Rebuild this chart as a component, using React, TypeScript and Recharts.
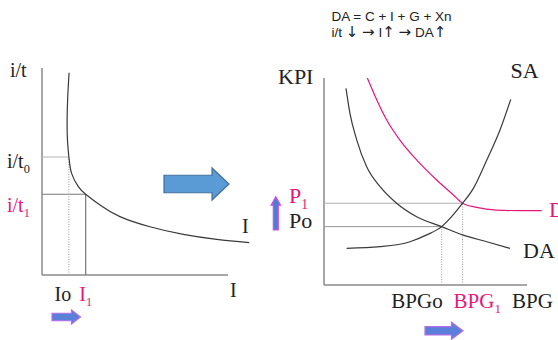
import React from "react";
import { LineChart, Line, XAxis, YAxis, ReferenceLine } from "recharts";

const SERIF = "\"Liberation Serif\", \"DejaVu Serif\", \"Times New Roman\", serif";
const SANS = "\"Liberation Sans\", Arial, sans-serif";
const PINK = "#e5177a";
const INK = "#222";
const CURVE = "#3a3a3a";
const AXIS = "#8a8a8a";

// ---- left panel: investment vs interest rate ----
const I_CURVE_X = [12.9, 12.2, 12.0, 12.8, 14.1, 17.3, 20.8, 27.6, 37.1, 51.4, 67.3, 83.2, 98.7];
const I_CURVE_Y = [97.7, 84.5, 68.4, 57.0, 49.1, 42.7, 39.0, 33.8, 28.2, 23.3, 19.6, 17.2, 15.6];
const RATE_TICKS = [57.0, 39.0]; // i/t0, i/t1
const INVEST_TICKS = [12.8, 20.8]; // Io, I1
const LEFT_X_END = 88.6;

// ---- right panel: aggregate demand / supply ----
const SA_X = [10.3, 25.5, 39.1, 46.7, 53.5, 58, 63, 67.9, 74, 80, 84.9];
const SA_Y = [17.7, 18.5, 20.9, 24.2, 28.2, 33, 39.5, 46.7, 60.4, 74.9, 89.7];
const DA_X = [10, 11.8, 14.9, 19.4, 25.5, 33, 42.1, 53.5, 63, 74, 84.5];
const DA_Y = [95, 82.9, 70, 57.1, 47.5, 39.5, 33, 28.2, 24.2, 20.9, 17.7];
const DA1_X = [19.7, 24, 28.5, 34.5, 42.1, 51.2, 58.8, 63, 69.4, 78.5, 89.1, 99];
const DA1_Y = [100, 89.4, 79.7, 70, 60.4, 50.7, 43.5, 39.5, 37.5, 36.2, 35.9, 35.9];
const PRICE_TICKS = [28.2, 39.5]; // Po, P1
const OUTPUT_TICKS = [53.5, 63]; // BPGo, BPG1
const RIGHT_X_END = 92.3;

const RATE_LABELS = [
  { main: "i/t", sub: "0", color: INK },
  { main: "i/t", sub: "1", color: PINK },
];
const INVEST_LABELS = [
  { main: "Io", sub: "", color: INK },
  { main: "I", sub: "1", color: PINK },
];
const PRICE_LABELS = [
  { main: "Po", sub: "", color: INK },
  { main: "P", sub: "1", color: PINK },
];
const OUTPUT_LABELS = [
  { main: "BPGo", sub: "", color: INK },
  { main: "BPG", sub: "1", color: PINK },
];

const zip = (xs: number[], ys: number[]) => xs.map((x, i) => ({ x, y: ys[i] }));

type Lbl = { main: string; sub: string; color: string };

function SubText({ x, y, l, size, anchor }: { x: number; y: number; l: Lbl; size: number; anchor: string }) {
  return (
    <text x={x} y={y} fill={l.color} style={{ fontFamily: SERIF, fontSize: size }} textAnchor={anchor as any}>
      {l.main}
      {l.sub && (
        <tspan style={{ fontSize: size * 0.62 }} dy={size * 0.25}>
          {l.sub}
        </tspan>
      )}
    </text>
  );
}

function Txt({ x, y, size, children, color = INK }: any) {
  return (
    <text x={x} y={y} fill={color} style={{ fontFamily: SERIF, fontSize: size }}>
      {children}
    </text>
  );
}

const tickFor =
  (ticks: number[], labels: Lbl[], place: (i: number, x: number, y: number) => [number, number, string], size: number) =>
  (props: any) => {
    const i = ticks.indexOf(props.payload.value);
    if (i < 0) return <g />;
    const [x, y, anchor] = place(i, props.x, props.y);
    return <SubText x={x} y={y} l={labels[i]} size={size} anchor={anchor} />;
  };

function Arrow({ x1, x2, y, body, head, headLen, fill, stroke }: any) {
  const hx = x2 - headLen;
  const pts = [
    [x1, y - body / 2],
    [hx, y - body / 2],
    [hx, y - head / 2],
    [x2, y],
    [hx, y + head / 2],
    [hx, y + body / 2],
    [x1, y + body / 2],
  ];
  return <polygon points={pts.map((p) => p.join(",")).join(" ")} fill={fill} stroke={stroke} strokeWidth={1.2} />;
}

const ARW = { fontFamily: "\"DejaVu Sans\", sans-serif", fontSize: 15 };

export default function App() {
  const iCurve = zip(I_CURVE_X, I_CURVE_Y);
  const sa = zip(SA_X, SA_Y);
  const da = zip(DA_X, DA_Y);
  const da1 = zip(DA1_X, DA1_Y);

  return (
    <div style={{ position: "absolute", left: 0, top: 0, width: 558, height: 340, background: "#fff", overflow: "hidden" }}>
      <div style={{ position: "absolute", left: 0, top: 0 }}>
        <LineChart width={280} height={340} margin={{ top: 68, right: 28, left: 12, bottom: 35 }}>
          <XAxis
            type="number"
            dataKey="x"
            domain={[0, 100]}
            ticks={INVEST_TICKS}
            axisLine={false}
            tickLine={false}
            tickSize={0}
            tickMargin={0}
            height={30}
            interval={0}
            tick={tickFor(INVEST_TICKS, INVEST_LABELS, (i, x, y) => [i === 0 ? x - 6 : x, y + 26, "middle"], 20)}
          />
          <YAxis
            type="number"
            domain={[0, 100]}
            ticks={RATE_TICKS}
            axisLine={false}
            tickLine={false}
            tickSize={0}
            tickMargin={0}
            width={30}
            interval={0}
            tick={tickFor(RATE_TICKS, RATE_LABELS, (i, x, y) => [x - 35, y + (i === 0 ? 11 : 18), "start"], 20)}
          />
          <ReferenceLine segment={[{ x: 0, y: 0 }, { x: 0, y: 100 }]} stroke={AXIS} strokeWidth={1.5} ifOverflow="visible" />
          <ReferenceLine segment={[{ x: 0, y: 0 }, { x: LEFT_X_END, y: 0 }]} stroke={AXIS} strokeWidth={1.5} ifOverflow="visible" />
          <ReferenceLine segment={[{ x: 0, y: RATE_TICKS[0] }, { x: INVEST_TICKS[0], y: RATE_TICKS[0] }]} stroke="#b5b5b5" strokeWidth={1} />
          <ReferenceLine segment={[{ x: 0, y: RATE_TICKS[1] }, { x: INVEST_TICKS[1], y: RATE_TICKS[1] }]} stroke="#777" strokeWidth={1.2} />
          <ReferenceLine segment={[{ x: INVEST_TICKS[0], y: 0 }, { x: INVEST_TICKS[0], y: RATE_TICKS[0] }]} stroke="#999" strokeWidth={1} strokeDasharray="1 1.5" />
          <ReferenceLine segment={[{ x: INVEST_TICKS[1], y: 0 }, { x: INVEST_TICKS[1], y: RATE_TICKS[1] }]} stroke="#777" strokeWidth={1.2} />
          <Line data={iCurve} dataKey="y" type="natural" stroke={CURVE} strokeWidth={1.2} dot={false} isAnimationActive={false} />
        </LineChart>
      </div>

      <div style={{ position: "absolute", left: 270, top: 0 }}>
        <LineChart width={288} height={340} margin={{ top: 78, right: 14, left: 24, bottom: 25 }}>
          <XAxis
            type="number"
            dataKey="x"
            domain={[0, 100]}
            ticks={OUTPUT_TICKS}
            axisLine={false}
            tickLine={false}
            tickSize={0}
            tickMargin={0}
            height={30}
            interval={0}
            tick={tickFor(OUTPUT_TICKS, OUTPUT_LABELS, (i, x, y) => (i === 0 ? [x + 1, y + 23, "end"] : [x - 9, y + 23, "start"]), 21)}
          />
          <YAxis
            type="number"
            domain={[0, 100]}
            ticks={PRICE_TICKS}
            axisLine={false}
            tickLine={false}
            tickSize={0}
            tickMargin={0}
            width={30}
            interval={0}
            tick={tickFor(PRICE_TICKS, PRICE_LABELS, (i, x, y) => [x - 35, y + (i === 0 ? 1 : 0), "start"], 22)}
          />
          <ReferenceLine segment={[{ x: 0, y: 0 }, { x: 0, y: 100 }]} stroke={AXIS} strokeWidth={1.5} ifOverflow="visible" />
          <ReferenceLine segment={[{ x: 0, y: 0 }, { x: RIGHT_X_END, y: 0 }]} stroke={AXIS} strokeWidth={1.5} ifOverflow="visible" />
          <ReferenceLine segment={[{ x: 0, y: PRICE_TICKS[0] }, { x: OUTPUT_TICKS[0], y: PRICE_TICKS[0] }]} stroke="#999" strokeWidth={1} />
          <ReferenceLine segment={[{ x: 0, y: PRICE_TICKS[1] }, { x: OUTPUT_TICKS[1], y: PRICE_TICKS[1] }]} stroke="#b0b0b0" strokeWidth={1} />
          <ReferenceLine segment={[{ x: OUTPUT_TICKS[0], y: 0 }, { x: OUTPUT_TICKS[0], y: PRICE_TICKS[0] }]} stroke="#999" strokeWidth={1} strokeDasharray="1 1.5" />
          <ReferenceLine segment={[{ x: OUTPUT_TICKS[1], y: 0 }, { x: OUTPUT_TICKS[1], y: PRICE_TICKS[1] }]} stroke="#999" strokeWidth={1} strokeDasharray="1 1.5" />
          <Line data={da1} dataKey="y" type="monotone" stroke={PINK} strokeWidth={1.2} dot={false} isAnimationActive={false} />
          <Line data={da} dataKey="y" type="monotone" stroke={CURVE} strokeWidth={1.2} dot={false} isAnimationActive={false} />
          <Line data={sa} dataKey="y" type="monotone" stroke={CURVE} strokeWidth={1.2} dot={false} isAnimationActive={false} />
        </LineChart>
      </div>

      <svg width={558} height={340} style={{ position: "absolute", left: 0, top: 0, pointerEvents: "none" }}>
        {/* header */}
        <text x={331.5} y={20.5} fill={INK} style={{ fontFamily: SANS, fontSize: 13.5 }}>DA = C + I + G + Xn</text>
        <text x={331.5} y={36.5} fill={INK} style={{ fontFamily: SANS, fontSize: 13.5 }}>
          i/t <tspan style={ARW}>↓</tspan> <tspan style={ARW}>→</tspan> I<tspan style={ARW}>↑</tspan> <tspan style={ARW}>→</tspan> DA<tspan style={ARW}>↑</tspan>
        </text>

        {/* left titles */}
        <Txt x={10} y={76.5} size={20}>i/t</Txt>
        <Txt x={242} y={233} size={20}>I</Txt>
        <Txt x={230} y={297} size={20}>I</Txt>

        {/* right titles */}
        <Txt x={278} y={83.5} size={22}>KPI</Txt>
        <Txt x={510.5} y={77.5} size={22}>SA</Txt>
        <SubText x={549} y={216.5} l={{ main: "DA", sub: "1", color: PINK }} size={22} anchor="start" />
        <Txt x={523} y={257.5} size={22}>DA</Txt>
        <Txt x={512} y={308} size={21}>BPG</Txt>

        {/* arrows */}
        <Arrow x1={164} x2={229} y={184} body={17.5} head={32} headLen={17} fill="#5b9bd5" stroke="#41719c" />
        <Arrow x1={52} x2={80.5} y={317} body={7.5} head={14} headLen={9} fill="#5a7fd8" stroke="#b46ee8" />
        <Arrow x1={425} x2={463} y={330.8} body={8.3} head={17} headLen={11.5} fill="#5a7fd8" stroke="#b46ee8" />
        <g transform="translate(275.8 213.5) rotate(-90)">
          <Arrow x1={-16.5} x2={16.8} y={0} body={5} head={9.5} headLen={8.5} fill="#4a7fd0" stroke="#d24ee6" />
        </g>
      </svg>
    </div>
  );
}
